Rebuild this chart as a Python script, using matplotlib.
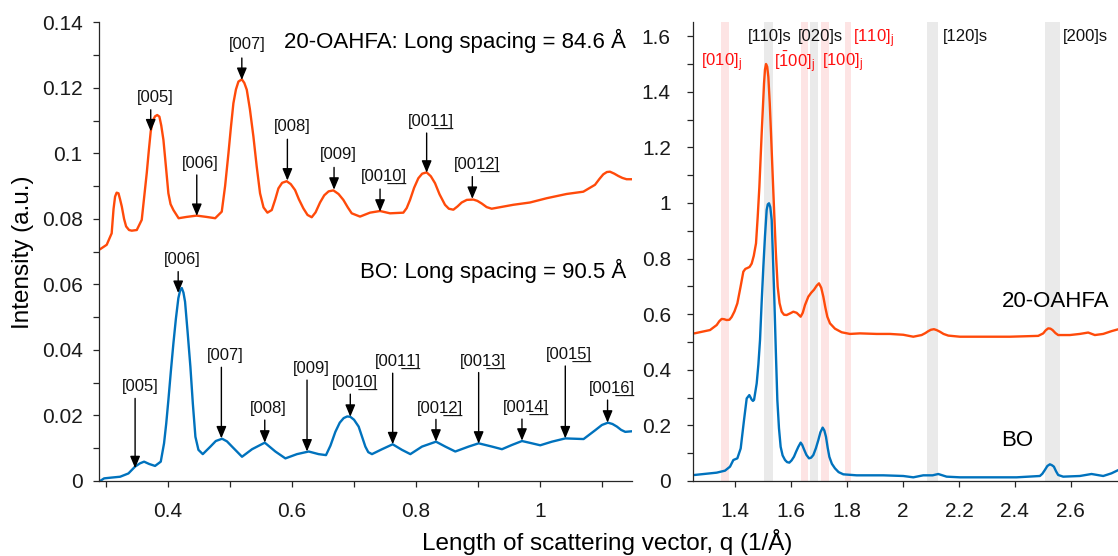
import matplotlib
matplotlib.use("Agg")
import matplotlib.pyplot as plt
from matplotlib.ticker import MultipleLocator, FuncFormatter
from matplotlib.mathtext import MathTextParser

plt.rcParams['font.family'] = ['Liberation Sans', 'DejaVu Sans']
plt.rcParams['mathtext.fontset'] = 'custom'
plt.rcParams['mathtext.rm'] = 'Liberation Sans'
plt.rcParams['mathtext.it'] = 'Liberation Sans:italic'
plt.rcParams['mathtext.bf'] = 'Liberation Sans:bold'

ORANGE = '#FF4A0A'
BLUE = '#0072BD'
PINK = '#FDE4E4'
GREY = '#EAEAEA'
AXC = '#262626'

# ---- small-angle region (left panel) ----
oahfa_q_small = [0.290, 0.301, 0.309, 0.312, 0.3145, 0.317, 0.320, 0.3225, 0.3253, 0.329,
                 0.3323, 0.337, 0.3414, 0.3495, 0.3575, 0.3656, 0.369, 0.372, 0.3755, 0.379,
                 0.3825, 0.386, 0.389, 0.3925, 0.3965, 0.4005, 0.404, 0.4086, 0.417, 0.430,
                 0.446, 0.462, 0.476, 0.4866, 0.492, 0.4974, 0.5014, 0.5054, 0.5095, 0.5135,
                 0.519, 0.523, 0.527, 0.532, 0.5377, 0.543, 0.5484, 0.554, 0.5603, 0.5673,
                 0.573, 0.578, 0.584, 0.5914, 0.598, 0.6049, 0.611, 0.6183, 0.625, 0.6318,
                 0.638, 0.6452, 0.652, 0.659, 0.6667, 0.675, 0.6828, 0.690, 0.6963, 0.7097,
                 0.7258, 0.742, 0.7581, 0.7796, 0.785, 0.7904, 0.797, 0.8038, 0.810, 0.8172,
                 0.824, 0.8307, 0.838, 0.8468, 0.853, 0.8603, 0.867, 0.8737, 0.882, 0.8925,
                 0.899, 0.906, 0.914, 0.9221, 0.957, 0.9839, 1.0108, 1.043, 1.070, 1.0888,
                 1.096, 1.1022, 1.108, 1.113, 1.120, 1.1264, 1.133, 1.1398, 1.150]
oahfa_i_small = [0.0707, 0.0721, 0.0756, 0.0830, 0.0868, 0.0880, 0.0878, 0.0860, 0.0838, 0.0800,
                 0.0777, 0.0766, 0.0764, 0.0766, 0.0797, 0.0940, 0.1010, 0.1067, 0.1100, 0.1113,
                 0.1117, 0.1112, 0.1085, 0.1041, 0.0960, 0.0878, 0.0845, 0.0827, 0.0802, 0.0806,
                 0.0810, 0.0806, 0.0802, 0.0822, 0.0900, 0.1000, 0.1080, 0.1153, 0.1195, 0.1219,
                 0.1226, 0.1215, 0.1194, 0.1135, 0.1051, 0.0960, 0.0878, 0.0835, 0.0819, 0.0827,
                 0.0860, 0.0893, 0.0910, 0.0915, 0.0906, 0.0888, 0.0860, 0.0832, 0.0812, 0.0805,
                 0.0820, 0.0850, 0.0872, 0.0884, 0.0887, 0.0876, 0.0858, 0.0835, 0.0817, 0.0807,
                 0.0819, 0.0824, 0.0817, 0.0819, 0.0833, 0.0858, 0.0895, 0.0924, 0.0938, 0.0942,
                 0.0930, 0.0909, 0.0875, 0.0843, 0.0831, 0.0828, 0.0838, 0.0850, 0.0858, 0.0859,
                 0.0855, 0.0847, 0.0836, 0.0831, 0.0843, 0.0850, 0.0863, 0.0876, 0.0883, 0.0904,
                 0.0922, 0.0936, 0.0943, 0.0944, 0.0938, 0.0931, 0.0925, 0.0921, 0.0921]

bo_q_small = [0.2903, 0.2968, 0.3065, 0.3226, 0.336, 0.3468, 0.3548, 0.3613, 0.3694, 0.379,
              0.3882, 0.3935, 0.397, 0.4005, 0.4045, 0.4086, 0.4126, 0.4166, 0.4195, 0.4221,
              0.4248, 0.4274, 0.4315, 0.436, 0.440, 0.4441, 0.449, 0.456, 0.4683, 0.477,
              0.4871, 0.495, 0.5032, 0.5193, 0.5355, 0.556, 0.5731, 0.5893, 0.608, 0.6269,
              0.6429, 0.6548, 0.662, 0.6699, 0.677, 0.6833, 0.689, 0.694, 0.700, 0.7075,
              0.713, 0.7183, 0.723, 0.729, 0.7452, 0.7624, 0.7774, 0.7909, 0.8097, 0.8323,
              0.8473, 0.8634, 0.8849, 0.9011, 0.9226, 0.9387, 0.9548, 0.971, 0.9871, 1.0005,
              1.0193, 1.0409, 1.0704, 1.0892, 1.100, 1.1097, 1.117, 1.1242, 1.131, 1.1376,
              1.150]
bo_i_small = [0.0000, 0.0008, 0.0010, 0.0013, 0.0023, 0.0044, 0.0054, 0.0059, 0.0052, 0.0046,
              0.0059, 0.0115, 0.0175, 0.0247, 0.0335, 0.0420, 0.0495, 0.0558, 0.0582, 0.0589,
              0.0575, 0.0547, 0.0455, 0.0349, 0.0235, 0.0135, 0.0095, 0.0082, 0.0105, 0.0122,
              0.0129, 0.0121, 0.0105, 0.0074, 0.0097, 0.0117, 0.0090, 0.0069, 0.0082, 0.0090,
              0.0082, 0.0079, 0.0108, 0.0150, 0.0178, 0.0192, 0.0197, 0.0196, 0.0187, 0.0166,
              0.0135, 0.0105, 0.0088, 0.0082, 0.0097, 0.0112, 0.0095, 0.0082, 0.0105, 0.0120,
              0.0105, 0.0090, 0.0105, 0.0115, 0.0105, 0.0097, 0.0110, 0.0122, 0.0115, 0.0109,
              0.0120, 0.0130, 0.0128, 0.0155, 0.0171, 0.0178, 0.0174, 0.0166, 0.0156, 0.0150,
              0.0152]

# (00l) reflections: order, arrow q, arrow tip, arrow tail, label q, label y
oahfa_order = [5, 6, 7, 8, 9, 10, 11, 12]
oahfa_arrow_q = [0.372, 0.4463, 0.519, 0.5925, 0.6678, 0.742, 0.8172, 0.8909]
oahfa_tip = [0.1067, 0.0809, 0.1224, 0.0917, 0.0889, 0.0822, 0.0941, 0.0861]
oahfa_tail = [0.1133, 0.0934, 0.1291, 0.1043, 0.0957, 0.0891, 0.1062, 0.0929]
oahfa_label_q = [0.379, 0.4517, 0.527, 0.6011, 0.6748, 0.7484, 0.8237, 0.8979]
oahfa_label_y = [0.1170, 0.0970, 0.1331, 0.1082, 0.0995, 0.0929, 0.1097, 0.0965]

bo_order = [5, 6, 7, 8, 9, 10, 11, 12, 13, 14, 15, 16]
bo_arrow_q = [0.3468, 0.4163, 0.486, 0.556, 0.6242, 0.694, 0.7624, 0.8322, 0.9011, 0.971,
              1.0409, 1.1091]
bo_tip = [0.0039, 0.0574, 0.0130, 0.0117, 0.0090, 0.0196, 0.0112, 0.0120, 0.0114, 0.0123,
          0.0130, 0.0178]
bo_tail = [0.0252, 0.0639, 0.0347, 0.0186, 0.0308, 0.0265, 0.0329, 0.0188, 0.0331, 0.0189,
           0.0351, 0.0247]
bo_label_q = [0.3548, 0.4221, 0.4925, 0.5624, 0.6312, 0.7011, 0.770, 0.8392, 0.908, 0.978,
              1.0473, 1.1161]
bo_label_y = [0.0288, 0.0675, 0.0382, 0.0222, 0.0344, 0.0300, 0.0364, 0.0222, 0.0366, 0.0225,
              0.0387, 0.0283]

# ---- wide-angle region (right panel) ----
oahfa_q_wide = [1.2547, 1.3107, 1.3345, 1.344, 1.3524, 1.361, 1.3702, 1.380, 1.388, 1.398,
                1.4083, 1.420, 1.4297, 1.437, 1.444, 1.452, 1.4595, 1.467, 1.475, 1.481,
                1.487, 1.4952, 1.5036, 1.507, 1.5107, 1.515, 1.519, 1.524, 1.5286, 1.5345,
                1.5405, 1.546, 1.5524, 1.559, 1.5667, 1.575, 1.5845, 1.597, 1.6083, 1.6202,
                1.6345, 1.642, 1.650, 1.6619, 1.672, 1.6821, 1.692, 1.700, 1.708, 1.7155,
                1.7225, 1.7298, 1.7393, 1.757, 1.7809, 1.8107, 1.8464, 1.906, 1.9535, 2.0012,
                2.0369, 2.0667, 2.080, 2.0905, 2.100, 2.1107, 2.120, 2.132, 2.145, 2.162,
                2.2036, 2.2869, 2.3821, 2.4833, 2.5012, 2.510, 2.519, 2.527, 2.5345, 2.545,
                2.5547, 2.5964, 2.632, 2.6619, 2.6857, 2.7155, 2.7452, 2.770]
oahfa_i_wide = [0.531, 0.543, 0.561, 0.575, 0.583, 0.582, 0.579, 0.580, 0.590, 0.610,
                0.639, 0.700, 0.753, 0.763, 0.766, 0.770, 0.782, 0.810, 0.855, 0.950,
                1.059, 1.250, 1.430, 1.480, 1.500, 1.490, 1.454, 1.360, 1.250, 1.100,
                0.951, 0.820, 0.699, 0.640, 0.609, 0.598, 0.597, 0.603, 0.609, 0.605,
                0.591, 0.605, 0.633, 0.663, 0.677, 0.688, 0.703, 0.711, 0.695, 0.663,
                0.625, 0.591, 0.567, 0.548, 0.535, 0.529, 0.531, 0.529, 0.529, 0.526,
                0.519, 0.525, 0.532, 0.539, 0.544, 0.546, 0.543, 0.537, 0.529, 0.523,
                0.519, 0.519, 0.519, 0.522, 0.531, 0.542, 0.549, 0.548, 0.543, 0.532,
                0.525, 0.525, 0.529, 0.534, 0.525, 0.529, 0.539, 0.546]

bo_q_wide = [1.2547, 1.3345, 1.3643, 1.3821, 1.394, 1.4083, 1.4202, 1.4321, 1.4417, 1.451,
             1.4595, 1.464, 1.468, 1.4774, 1.4835, 1.4893, 1.495, 1.5012, 1.507, 1.513,
             1.517, 1.5214, 1.526, 1.531, 1.5357, 1.5405, 1.546, 1.5512, 1.557, 1.563,
             1.570, 1.5786, 1.586, 1.594, 1.602, 1.6107, 1.618, 1.6262, 1.6345, 1.640,
             1.6464, 1.655, 1.6643, 1.672, 1.6798, 1.689, 1.6976, 1.705, 1.7131, 1.719,
             1.725, 1.731, 1.737, 1.746, 1.757, 1.770, 1.7869, 1.8345, 1.9298, 2.0012,
             2.0369, 2.0726, 2.1059, 2.1262, 2.156, 2.2036, 2.406, 2.4893, 2.498, 2.5071,
             2.516, 2.525, 2.532, 2.5393, 2.547, 2.5547, 2.5726, 2.632, 2.6738, 2.7155,
             2.7452, 2.770]
bo_i_wide = [0.0216, 0.0300, 0.0372, 0.0516, 0.0755, 0.0815, 0.117, 0.219, 0.297, 0.309,
             0.293, 0.288, 0.292, 0.351, 0.420, 0.507, 0.640, 0.771, 0.880, 0.975,
             0.995, 0.999, 0.985, 0.939, 0.800, 0.651, 0.460, 0.291, 0.190, 0.123,
             0.092, 0.0755, 0.068, 0.066, 0.074, 0.0875, 0.105, 0.123, 0.138, 0.130,
             0.114, 0.094, 0.0815, 0.084, 0.0935, 0.118, 0.147, 0.175, 0.192, 0.182,
             0.159, 0.120, 0.087, 0.062, 0.0456, 0.032, 0.024, 0.0204, 0.0204, 0.018,
             0.0132, 0.0204, 0.0204, 0.0252, 0.0156, 0.0132, 0.0132, 0.018, 0.026, 0.0396,
             0.054, 0.060, 0.057, 0.0516, 0.035, 0.0216, 0.0156, 0.018, 0.0252, 0.018,
             0.0276, 0.0396]

# reference reflections: q range, label, label q, label y, phase (s = solid, j = jammed)
band_lo = [1.350, 1.504, 1.636, 1.668, 1.707, 1.794, 2.087, 2.507]
band_hi = [1.380, 1.535, 1.660, 1.697, 1.735, 1.814, 2.126, 2.560]
band_phase = ['j', 's', 'j', 's', 'j', 'j', 's', 's']
band_label = [r'$\mathregular{[010]_j}$', '[110]s', r'$\mathregular{[\bar{1}00]_j}$', '[020]s',
              r'$\mathregular{[100]_j}$', r'$\mathregular{[110]_j}$', '[120]s', '[200]s']
band_label_q = [1.352, 1.523, 1.6125, 1.704, 1.784, 1.895, 2.223, 2.652]
band_label_y = [1.505, 1.600, 1.505, 1.600, 1.505, 1.592, 1.600, 1.600]

_parser = MathTextParser('path')
try:
    _parser.parse(r'$\underline{1}$')
    HAS_UNDERLINE = True
except Exception:
    HAS_UNDERLINE = False


def miller(idx):
    if idx < 10:
        return f'[00{idx}]'
    if HAS_UNDERLINE:
        return r'$\mathregular{[00\underline{%d}]}$' % idx
    return '[00' + ''.join(c + '\u0332' for c in str(idx)) + ']'


def style_axes(ax, ypad):
    for side in ('top', 'right'):
        ax.spines[side].set_visible(False)
    for side in ('left', 'bottom'):
        ax.spines[side].set_color(AXC)
        ax.spines[side].set_linewidth(0.9)
    ax.tick_params(which='both', direction='out', length=4, width=0.9, colors=AXC,
                   labelsize=15, labelcolor='#1a1a1a')
    ax.tick_params(axis='y', which='major', pad=ypad)
    ax.tick_params(axis='x', which='major', pad=11)
    fmt = FuncFormatter(lambda v, p: f'{v:g}')
    ax.xaxis.set_major_formatter(fmt)
    ax.yaxis.set_major_formatter(fmt)


def annotate_orders(ax, orders, aq, tip, tail, lq, ly):
    for n, q, t0, t1, x, y in zip(orders, aq, tip, tail, lq, ly):
        ax.annotate('', xy=(q, t0), xytext=(q, t1),
                    arrowprops=dict(arrowstyle='-|>,head_length=0.6,head_width=0.25',
                                    color='black', lw=1.0, mutation_scale=12,
                                    shrinkA=0, shrinkB=0))
        ax.text(x, y, miller(n), ha='center', va='center', fontsize=12, color='#111111')


fig = plt.figure(figsize=(11.18, 5.56), dpi=100)
ax1 = fig.add_axes([0.0888, 0.1349, 0.4762, 0.825])
ax2 = fig.add_axes([0.6199, 0.1349, 0.3805, 0.825])

line_kw = dict(lw=1.7, solid_joinstyle='round', solid_capstyle='round')

# left panel: lamellar (00l) peaks
ax1.plot(oahfa_q_small, oahfa_i_small, color=ORANGE, **line_kw)
ax1.plot(bo_q_small, bo_i_small, color=BLUE, **line_kw)
annotate_orders(ax1, oahfa_order, oahfa_arrow_q, oahfa_tip, oahfa_tail,
                oahfa_label_q, oahfa_label_y)
annotate_orders(ax1, bo_order, bo_arrow_q, bo_tip, bo_tail, bo_label_q, bo_label_y)
ax1.text(1.139, 0.1344, '20-OAHFA: Long spacing = 84.6 Å', ha='right', va='center',
         fontsize=16)
ax1.text(1.139, 0.0642, 'BO: Long spacing = 90.5 Å', ha='right', va='center', fontsize=16)
ax1.set_xlim(0.289, 1.148)
ax1.set_ylim(0, 0.14)
ax1.xaxis.set_major_locator(MultipleLocator(0.2))
ax1.xaxis.set_minor_locator(MultipleLocator(0.1))
ax1.yaxis.set_major_locator(MultipleLocator(0.02))
ax1.yaxis.set_minor_locator(MultipleLocator(0.01))
style_axes(ax1, 8)

# right panel: wide-angle peaks with reference reflections
for lo, hi, ph in zip(band_lo, band_hi, band_phase):
    ax2.axvspan(lo, hi, color=PINK if ph == 'j' else GREY, lw=0, zorder=0)
for lab, x, y, ph in zip(band_label, band_label_q, band_label_y, band_phase):
    ax2.text(x, y, lab, ha='center', va='center', fontsize=12,
             color='#FF1010' if ph == 'j' else '#111111')
ax2.plot(oahfa_q_wide, oahfa_i_wide, color=ORANGE, **line_kw)
ax2.plot(bo_q_wide, bo_i_wide, color=BLUE, **line_kw)
ax2.text(2.352, 0.645, '20-OAHFA', ha='left', va='center', fontsize=16)
ax2.text(2.352, 0.145, 'BO', ha='left', va='center', fontsize=16)
ax2.set_xlim(1.25, 2.77)
ax2.set_ylim(0, 1.65)
ax2.xaxis.set_major_locator(MultipleLocator(0.2))
ax2.yaxis.set_major_locator(MultipleLocator(0.2))
ax2.yaxis.set_minor_locator(MultipleLocator(0.1))
style_axes(ax2, 12)

fig.text(0.0206, 0.547, 'Intensity (a.u.)', rotation=90, ha='center', va='center',
         fontsize=17.5)
fig.text(0.543, 0.026, 'Length of scattering vector, q (1/Å)', ha='center', va='center',
         fontsize=17.5)

fig.savefig('out.png', dpi=100)
plt.close(fig)
